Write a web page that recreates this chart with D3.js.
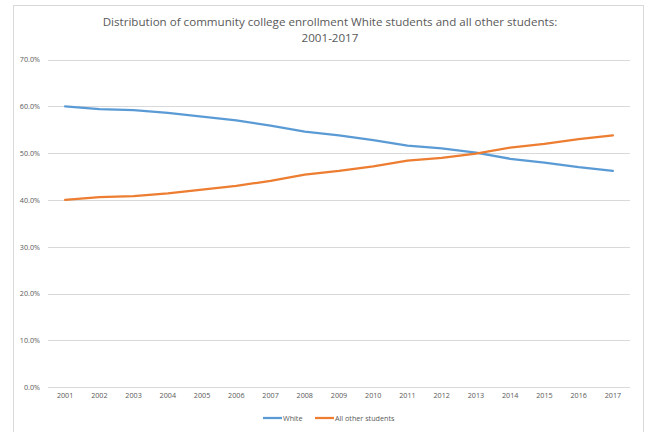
<!DOCTYPE html>
<html><head><meta charset="utf-8">
<script src="https://cdn.jsdelivr.net/npm/d3@7"></script>
<style>
html,body{margin:0;padding:0;background:#fff;}
svg{display:block;font-family:"Open Sans","Liberation Sans",sans-serif;}
</style></head>
<body>
<svg id="c" width="649" height="432"></svg>
<script>
const years = ["2001","2002","2003","2004","2005","2006","2007","2008","2009","2010","2011","2012","2013","2014","2015","2016","2017"];
const white = [60.0,59.4,59.2,58.6,57.8,57.0,55.9,54.6,53.8,52.8,51.6,51.0,50.1,48.8,48.0,47.0,46.2];
const allOther = [40.0,40.6,40.8,41.4,42.2,43.0,44.1,45.4,46.2,47.2,48.4,49.0,49.9,51.2,52.0,53.0,53.8];
const yTicks = [0,10,20,30,40,50,60,70];
const seriesNames = ["White","All other students"];
const colors = ["#5B9BD5","#ED7D31"];
const titleLines = ["Distribution of community college enrollment White students and all other students:","2001-2017"];

const svg = d3.select("#c");
// chart frame
svg.append("rect").attr("x",13.5).attr("y",5.5).attr("width",630).attr("height",440)
  .attr("fill","#fff").attr("stroke","#D9D9D9").attr("stroke-width",1);

const x = d3.scaleBand().domain(years).range([48,630]);
const y = d3.scaleLinear().domain([0,70]).range([387.3,59.5]);

// gridlines
svg.append("g").selectAll("line").data(yTicks).join("line")
  .attr("x1",48).attr("x2",630)
  .attr("y1",d=>Math.round(y(d))+0.5).attr("y2",d=>Math.round(y(d))+0.5)
  .attr("stroke","#D9D9D9").attr("stroke-width",1);

// y axis labels
const yAxis = d3.axisLeft(y).tickValues(yTicks).tickSize(0).tickPadding(0)
  .tickFormat(d=>d.toFixed(1)+"%");
const gy = svg.append("g").attr("transform","translate(40,0)").call(yAxis);
gy.select(".domain").remove();
gy.selectAll("text").attr("fill","#595959").style("font-size","7.2px")
  .style("font-family","'Open Sans',sans-serif");

// x axis labels
const xAxis = d3.axisBottom(x).tickSize(0).tickPadding(0);
const gx = svg.append("g").attr("transform","translate(0,393)").call(xAxis);
gx.select(".domain").remove();
gx.selectAll("text").attr("fill","#595959").style("font-size","7.2px")
  .style("font-family","'Open Sans',sans-serif");

// lines
const line = d3.line().x((d,i)=>x(years[i])+x.bandwidth()/2).y(d=>y(d));
[white, allOther].forEach((s,k)=>{
  svg.append("path").datum(s).attr("d",line).attr("fill","none")
    .attr("stroke",colors[k]).attr("stroke-width",2.25)
    .attr("stroke-linejoin","round").attr("stroke-linecap","round");
});

// title
svg.append("g").selectAll("text").data(titleLines).join("text")
  .attr("x",330).attr("y",(d,i)=>25.5+i*16)
  .attr("text-anchor","middle").attr("fill","#595959")
  .style("font-size","11.6px").style("font-family","'Open Sans',sans-serif")
  .text(d=>d);

// legend
const leg = [{x0:263,x1:282,tx:283},{x0:315,x1:334,tx:335}];
leg.forEach((l,k)=>{
  svg.append("line").attr("x1",l.x0).attr("x2",l.x1).attr("y1",418).attr("y2",418)
    .attr("stroke",colors[k]).attr("stroke-width",2.25);
  svg.append("text").attr("x",l.tx).attr("y",420.5).attr("fill","#595959")
    .style("font-size","7.2px").style("font-family","'Open Sans',sans-serif")
    .text(seriesNames[k]);
});
</script>
</body></html>
